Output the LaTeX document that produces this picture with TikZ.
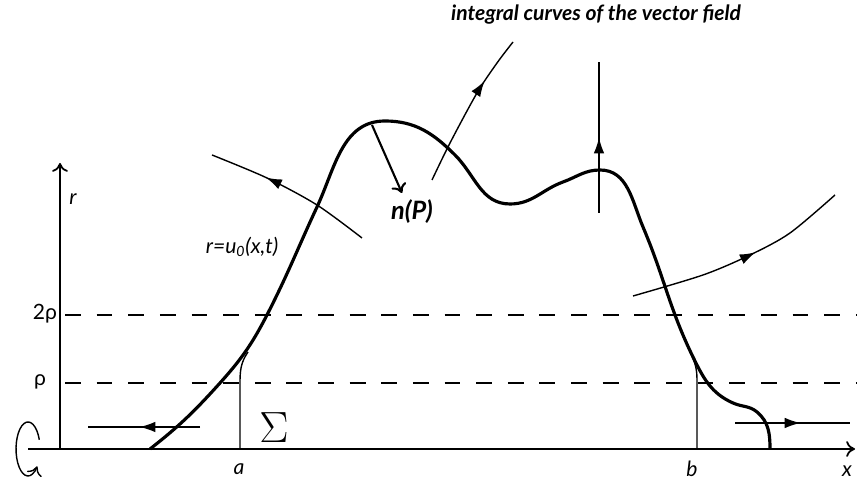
\documentclass[tikz,border=0pt]{standalone}
\usepackage{fontspec}
\setmainfont{Lato}
\usetikzlibrary{arrows.meta,decorations.markings}

\tikzset{
  midarrow/.style={postaction={decorate},decoration={markings,
    mark=at position #1 with {\arrow{Latex[length=9pt,width=6pt]}}}},
  fieldline/.style={line width=0.8pt},
  graphline/.style={line width=1.8pt},
  levelline/.style={line width=0.8pt,dash pattern=on 9pt off 9pt},
  lbl/.style={font=\itshape\large}
}

\begin{document}
\begin{tikzpicture}[line width=1.0pt,>={Computer Modern Rightarrow[length=5pt,width=9pt]}]
\useasboundingbox (0,0) rectangle (17.14,9.74);
% 坐标轴
\draw[->] (0.56,0.76) -- (17.1,0.76);
\draw[->] (1.2,0.76) -- (1.2,6.48);
\node[lbl] (rlab) at (1.46,5.76) {r};
\node[lbl] (xlab) at (16.94,0.32) {x};
\node[lbl] (alab) at (4.78,0.36) {a};
\node[lbl] (blab) at (13.84,0.36) {b};
% 旋转
\draw[->,line width=0.8pt] (0.786,0.945) arc[start angle=20,end angle=320,x radius=0.24,y radius=0.54];
% 水平虚线
\draw[levelline] (1.3,3.44) -- (17.12,3.44);
\draw[levelline] (1.3,2.08) -- (17.12,2.08);
\node[font=\large] (rho2) at (0.9,3.46) {2ρ};
\node[font=\large] (rho1) at (0.8,2.1) {ρ};
% 曲线 r=u_0(x,t)
\draw[graphline] (3.0,0.76) to[out=38,in=228] (4.4,2.08) to[out=48,in=243] (5.36,3.48)
  to[out=63,in=245] (6.34,5.6) to[out=65,in=180] (7.7,7.32) to[out=0,in=135] (9.1,6.64)
  to[out=-45,in=180] (10.2,5.66) to[out=0,in=200] (11.26,6.1) to[out=20,in=180] (12.0,6.34)
  to[out=0,in=113] (12.86,5.2) to[out=-67,in=116] (13.86,2.6) to[out=-64,in=156] (14.66,1.68)
  to[out=-24,in=140] (15.14,1.5) to[out=-40,in=90] (15.4,0.76);
\node[lbl] (ulab) at (4.84,4.8) {r=u\textsubscript{0}(x,t)};
% 曲面 Sigma
\draw[fieldline] (4.8,0.76) -- (4.8,2.08) to[out=90,in=235] (4.96,2.7);
\draw[fieldline] (13.94,0.76) -- (13.94,2.14) to[out=90,in=-64] (13.81,2.68);
\node[font=\fontsize{24}{24}\selectfont] (sig) at (5.48,1.18) {$\Sigma$};
% 法向量
\draw[->,line width=1.2pt] (7.44,7.24) -- (8.04,5.88);
\node[font=\Large\bfseries\itshape] (nlab) at (8.24,5.5) {n(P)};
% 积分曲线
\draw[fieldline,midarrow=0.54] (4.0,1.2) -- (1.76,1.2);
\draw[fieldline,midarrow=0.57] (14.7,1.28) -- (17.0,1.28);
\draw[fieldline,midarrow=0.66] plot[smooth] coordinates {(7.24,4.98) (6.34,5.64) (5.34,6.18) (4.24,6.64)};
\draw[fieldline,midarrow=0.7] plot[smooth] coordinates {(8.64,6.14) (9.0,6.88) (9.54,7.88) (9.94,8.48) (10.26,8.9)};
\draw[fieldline,midarrow=0.5] (11.98,5.48) -- (11.98,8.5);
\draw[fieldline,midarrow=0.57] plot[smooth] coordinates {(12.66,3.82) (14.06,4.24) (15.0,4.64) (15.8,5.08) (16.7,5.84)};
\node[font=\large\bfseries\itshape] (title) at (11.92,9.44) {integral curves of the vector field};
\end{tikzpicture}
\end{document}
